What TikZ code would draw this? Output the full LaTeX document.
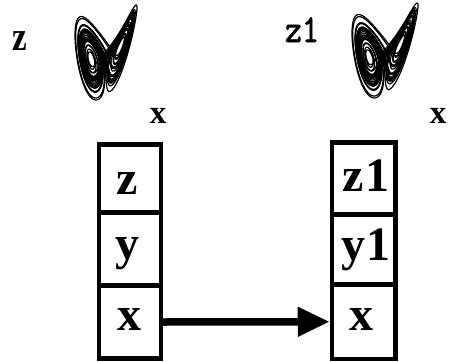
\documentclass[tikz,border=0pt]{standalone}
\usepackage{fontspec}
\setmainfont{Liberation Serif}
\newfontfamily\lmmonobold[FakeBold=2]{Latin Modern Mono}
\usetikzlibrary{arrows.meta}
% ---- Lorenz attractor, computed once, projected to (P,Q) ----
\newcount\lzn
\def\lzx{1}\def\lzy{1}\def\lzz{20}
\def\lzPmin{1000}\def\lzPmax{-1000}\def\lzQmin{1000}\def\lzQmax{-1000}
\lzn=0
\loop
  \pgfmathsetmacro\lzdx{10*(\lzy-\lzx)}%
  \pgfmathsetmacro\lzdy{\lzx*(28-\lzz)-\lzy}%
  \pgfmathsetmacro\lzdz{\lzx*\lzy-2.666667*\lzz}%
  \pgfmathsetmacro\lzx{\lzx+0.007*\lzdx}%
  \pgfmathsetmacro\lzy{\lzy+0.007*\lzdy}%
  \pgfmathsetmacro\lzz{\lzz+0.007*\lzdz}%
  \pgfmathsetmacro\lzP{\lzx}%
  \pgfmathsetmacro\lzQ{\lzz+0.35*\lzy}%
  \ifnum\lzn>199
    \pgfmathsetmacro\lzPmin{min(\lzPmin,\lzP)}%
    \pgfmathsetmacro\lzPmax{max(\lzPmax,\lzP)}%
    \pgfmathsetmacro\lzQmin{min(\lzQmin,\lzQ)}%
    \pgfmathsetmacro\lzQmax{max(\lzQmax,\lzQ)}%
  \fi
  \expandafter\xdef\csname lzp@\the\lzn\endcsname{\noexpand\pgfpointxy{\lzP}{\lzQ}}%
  \advance\lzn by 1
\ifnum\lzn<6000 \repeat
\newcount\lzi \newcount\lzj
\newcommand\drawlorenz{%
  \lzi=200 \lzj=0
  \pgfpathmoveto{\csname lzp@\the\lzi\endcsname}%
  \loop
    \advance\lzi by 1 \advance\lzj by 1
    \pgfpathlineto{\csname lzp@\the\lzi\endcsname}%
    \ifnum\lzj=250 \pgfusepath{stroke}\pgfpathmoveto{\csname lzp@\the\lzi\endcsname}\lzj=0 \fi
  \ifnum\lzi<5999 \repeat
  \pgfusepath{stroke}}
% #1 left, #2 top, #3 width, #4 height, in picture (image) coordinates
\newcommand\lorenzbox[4]{%
  \pgfmathsetmacro\lzsx{#3/(\lzPmax-\lzPmin)}%
  \pgfmathsetmacro\lzsy{#4/(\lzQmax-\lzQmin)}%
  \pgfmathsetmacro\lzXo{#1-\lzsx*\lzPmin}%
  \pgfmathsetmacro\lzYo{#2+#4+\lzsy*\lzQmin}%
  \begin{scope}[shift={(\lzXo,\lzYo)}, x={(\lzsx pt,0pt)}, y={(0pt,\lzsy pt)}, attr]
    \drawlorenz
  \end{scope}}
\tikzset{
  cell/.style={draw, line width=4.5pt, minimum width=62pt, inner sep=0pt},
  cellfont/.style={font=\fontsize{48}{48}\selectfont\bfseries, inner sep=0pt, anchor=base},
  axfont/.style={font=\fontsize{33}{33}\selectfont\bfseries, inner sep=0pt, anchor=base},
  attr/.style={line width=1.2pt, line join=round},
}
\begin{document}
\begin{tikzpicture}[x=1pt,y=-1pt]
\useasboundingbox (0,0) rectangle (449,361);
% attractors
\lorenzbox{75}{5}{62}{95}
\lorenzbox{352}{3}{66}{95}
% axis labels
\node[axfont, yscale=1.25] (lz) at (20,50) {z};
\node[axfont] (lx) at (158,123) {x};
\node[inner sep=0pt, anchor=base, font=\fontsize{33}{33}\selectfont\lmmonobold, yscale=1.2] (rz) at (302,42) {z1};
\node[axfont] (rx) at (438,123) {x};
% left column
\node[cell, minimum height=68pt] (L1) at (130,178.5) {};
\node[cell, minimum height=73pt] (L2) at (130,249) {};
\node[cell, minimum height=73pt] (L3) at (130,322) {};
\node[cellfont] (tz) at (127,194) {z};
\node[cellfont] (ty) at (127,259) {y};
\node[cellfont] (tx) at (129.5,330) {x};
% right column
\node[cell, minimum height=72pt, minimum width=63.5pt] (R1) at (363.75,178.5) {};
\node[cell, minimum height=70pt, minimum width=63.5pt] (R2) at (363.75,249.5) {};
\node[cell, minimum height=74.5pt, minimum width=63.5pt] (R3) at (363.75,321.75) {};
\node[cellfont] (tz1) at (366,191) {z\hspace{2pt}1};
\node[cellfont] (ty1) at (366,260) {y\hspace{1pt}1};
\node[cellfont] (tx1) at (361,330) {x};
% arrow
\draw[line width=7.5pt, -{Triangle[length=32pt,width=28pt]}, shorten <=-2pt] (L3.east) -- (R3.west);
\end{tikzpicture}
\end{document}
